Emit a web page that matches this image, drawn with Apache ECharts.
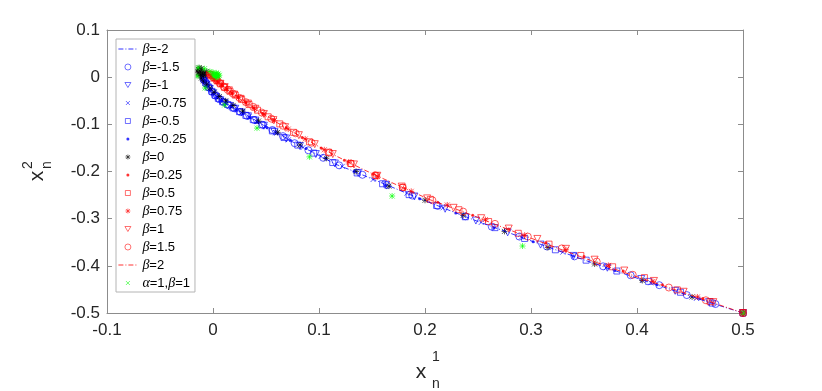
<!DOCTYPE html>
<html>
<head>
<meta charset="utf-8">
<script src="https://cdn.jsdelivr.net/npm/echarts@6/dist/echarts.min.js"></script>
<style>
  html, body { margin: 0; padding: 0; background: #fff; }
  #chart { width: 822px; height: 391px; }
</style>
</head>
<body>
<div id="chart"></div>
<script>
// axis ticks
var xTicks = [-0.1, 0, 0.1, 0.2, 0.3, 0.4, 0.5];
var yTicks = [-0.5, -0.4, -0.3, -0.2, -0.1, 0, 0.1];

// iterates (x_n^1, x_n^2), one list per beta
var bM2 = [[0.5,-0.5],[0.462,-0.473],[0.425,-0.445],[0.388,-0.417],[0.352,-0.389],[0.317,-0.361],[0.283,-0.333],[0.25,-0.306],[0.218,-0.278],[0.187,-0.25],[0.158,-0.223],[0.13,-0.197],[0.115,-0.184],[0.1,-0.166],[0.087,-0.151],[0.075,-0.137],[0.064,-0.122],[0.054,-0.109],[0.045,-0.098],[0.037,-0.088],[0.03,-0.079],[0.023,-0.07],[0.017,-0.062],[0.012,-0.055],[0.007,-0.048],[0.003,-0.04],[0.0,-0.032],[-0.003,-0.024],[-0.006,-0.016],[-0.008,-0.008],[-0.01,-0.001],[-0.01,0.004]];
var bM15 = [[0.5,-0.5],[0.474,-0.481],[0.447,-0.462],[0.421,-0.441],[0.394,-0.42],[0.368,-0.401],[0.341,-0.38],[0.315,-0.359],[0.289,-0.338],[0.263,-0.317],[0.238,-0.295],[0.212,-0.273],[0.188,-0.251],[0.164,-0.229],[0.141,-0.207],[0.119,-0.187],[0.104,-0.171],[0.09,-0.155],[0.077,-0.14],[0.066,-0.125],[0.056,-0.112],[0.047,-0.101],[0.039,-0.091],[0.032,-0.082],[0.026,-0.074],[0.02,-0.066],[0.015,-0.06],[0.01,-0.053],[0.006,-0.047],[0.002,-0.039],[-0.001,-0.031],[-0.004,-0.022],[-0.006,-0.014],[-0.008,-0.007],[-0.009,-0.001]];
var bM1 = [[0.5,-0.5],[0.468,-0.477],[0.436,-0.453],[0.404,-0.428],[0.372,-0.404],[0.34,-0.379],[0.309,-0.355],[0.278,-0.329],[0.248,-0.304],[0.219,-0.279],[0.19,-0.253],[0.163,-0.228],[0.137,-0.203],[0.115,-0.183],[0.097,-0.163],[0.082,-0.146],[0.069,-0.13],[0.058,-0.116],[0.048,-0.103],[0.04,-0.092],[0.033,-0.083],[0.027,-0.075],[0.021,-0.067],[0.016,-0.061],[0.011,-0.055],[0.007,-0.049],[0.003,-0.042],[0.0,-0.034],[-0.003,-0.025],[-0.006,-0.016],[-0.008,-0.008],[-0.009,-0.002]];
var bM075 = [[0.5,-0.5],[0.456,-0.469],[0.413,-0.436],[0.371,-0.404],[0.33,-0.371],[0.291,-0.339],[0.253,-0.308],[0.217,-0.277],[0.183,-0.246],[0.151,-0.217],[0.122,-0.189],[0.102,-0.168],[0.085,-0.149],[0.071,-0.133],[0.059,-0.118],[0.049,-0.105],[0.041,-0.094],[0.034,-0.084],[0.027,-0.075],[0.021,-0.068],[0.016,-0.061],[0.011,-0.054],[0.007,-0.048],[0.003,-0.041],[0.0,-0.033],[-0.003,-0.024],[-0.006,-0.015],[-0.008,-0.007],[-0.01,0.0]];
var bM05 = [[0.5,-0.5],[0.471,-0.479],[0.441,-0.456],[0.411,-0.433],[0.381,-0.411],[0.352,-0.388],[0.323,-0.366],[0.294,-0.342],[0.266,-0.319],[0.238,-0.296],[0.211,-0.272],[0.185,-0.249],[0.16,-0.226],[0.136,-0.203],[0.113,-0.181],[0.095,-0.161],[0.08,-0.144],[0.067,-0.128],[0.056,-0.114],[0.046,-0.101],[0.038,-0.09],[0.031,-0.081],[0.025,-0.073],[0.019,-0.065],[0.014,-0.058],[0.009,-0.052],[0.005,-0.045],[0.002,-0.038],[-0.001,-0.03],[-0.004,-0.021],[-0.007,-0.012],[-0.009,-0.004]];
var bM025 = [[0.5,-0.5],[0.459,-0.47],[0.419,-0.44],[0.379,-0.41],[0.34,-0.379],[0.302,-0.349],[0.265,-0.319],[0.229,-0.288],[0.195,-0.258],[0.163,-0.229],[0.133,-0.2],[0.106,-0.172],[0.088,-0.151],[0.073,-0.134],[0.061,-0.12],[0.051,-0.107],[0.042,-0.096],[0.035,-0.086],[0.028,-0.077],[0.022,-0.069],[0.017,-0.062],[0.012,-0.056],[0.008,-0.05],[0.004,-0.043],[0.001,-0.035],[-0.002,-0.027],[-0.005,-0.018],[-0.007,-0.01],[-0.009,-0.003],[-0.01,0.003]];
var k0 = [[0.5,-0.5],[0.452,-0.466],[0.405,-0.431],[0.36,-0.396],[0.316,-0.361],[0.275,-0.327],[0.236,-0.293],[0.2,-0.261],[0.166,-0.231],[0.135,-0.2],[0.107,-0.172],[0.082,-0.144],[0.061,-0.117],[0.043,-0.093],[0.028,-0.072],[0.019,-0.06],[0.012,-0.05],[0.006,-0.041],[0.001,-0.032],[-0.003,-0.023],[-0.006,-0.015],[-0.009,-0.008],[-0.011,-0.002],[-0.013,0.004],[-0.014,0.009],[-0.015,0.013],[-0.014,0.017],[-0.013,0.02],[-0.011,0.018],[-0.01,0.014],[-0.012,0.011],[-0.01,0.008],[-0.008,0.01],[-0.007,0.005],[-0.009,0.002],[-0.012,0.006],[-0.006,0.012]];
var r025 = [[0.5,-0.5],[0.462,-0.469],[0.424,-0.44],[0.387,-0.411],[0.35,-0.38],[0.314,-0.351],[0.279,-0.322],[0.245,-0.293],[0.212,-0.265],[0.181,-0.236],[0.151,-0.206],[0.124,-0.176],[0.102,-0.15],[0.084,-0.128],[0.069,-0.107],[0.057,-0.09],[0.047,-0.077],[0.038,-0.065],[0.031,-0.054],[0.024,-0.043],[0.018,-0.034],[0.013,-0.026],[0.009,-0.018],[0.005,-0.011],[0.002,-0.005],[0.0,0.0],[-0.002,0.004]];
var r05 = [[0.5,-0.5],[0.469,-0.476],[0.438,-0.451],[0.407,-0.425],[0.377,-0.402],[0.347,-0.378],[0.317,-0.354],[0.288,-0.331],[0.26,-0.306],[0.232,-0.281],[0.205,-0.259],[0.179,-0.234],[0.154,-0.209],[0.13,-0.183],[0.109,-0.159],[0.091,-0.137],[0.076,-0.117],[0.063,-0.099],[0.052,-0.084],[0.042,-0.07],[0.034,-0.058],[0.027,-0.047],[0.021,-0.038],[0.016,-0.03],[0.011,-0.022],[0.007,-0.014],[0.004,-0.008],[0.001,-0.002],[-0.002,0.003]];
var r075 = [[0.5,-0.5],[0.457,-0.466],[0.415,-0.433],[0.373,-0.399],[0.333,-0.366],[0.294,-0.335],[0.257,-0.302],[0.221,-0.271],[0.187,-0.242],[0.155,-0.21],[0.128,-0.18],[0.105,-0.154],[0.087,-0.131],[0.071,-0.11],[0.058,-0.092],[0.048,-0.078],[0.039,-0.066],[0.031,-0.054],[0.024,-0.043],[0.018,-0.034],[0.013,-0.025],[0.008,-0.016],[0.004,-0.009],[0.001,-0.003],[-0.002,0.003],[-0.004,0.006]];
var r1 = [[0.5,-0.5],[0.472,-0.477],[0.444,-0.455],[0.416,-0.432],[0.388,-0.41],[0.36,-0.387],[0.333,-0.364],[0.306,-0.343],[0.279,-0.321],[0.253,-0.299],[0.227,-0.277],[0.202,-0.257],[0.178,-0.232],[0.155,-0.209],[0.133,-0.185],[0.113,-0.163],[0.096,-0.142],[0.081,-0.123],[0.068,-0.106],[0.057,-0.091],[0.048,-0.078],[0.04,-0.067],[0.033,-0.056],[0.026,-0.046],[0.02,-0.037],[0.015,-0.028],[0.011,-0.021],[0.007,-0.014],[0.003,-0.007],[0.0,-0.001],[-0.003,0.005]];
var r15 = [[0.5,-0.5],[0.465,-0.473],[0.43,-0.446],[0.396,-0.419],[0.362,-0.391],[0.329,-0.363],[0.297,-0.338],[0.266,-0.311],[0.236,-0.285],[0.207,-0.261],[0.179,-0.234],[0.153,-0.208],[0.13,-0.183],[0.11,-0.16],[0.093,-0.139],[0.078,-0.119],[0.066,-0.103],[0.055,-0.088],[0.046,-0.075],[0.038,-0.063],[0.031,-0.053],[0.025,-0.044],[0.019,-0.035],[0.014,-0.027],[0.01,-0.02],[0.006,-0.012],[0.003,-0.006],[0.0,0.0],[-0.003,0.006]];
var rP2 = [[0.5,-0.5],[0.461,-0.47],[0.422,-0.44],[0.384,-0.411],[0.346,-0.38],[0.309,-0.349],[0.273,-0.318],[0.238,-0.287],[0.205,-0.26],[0.173,-0.228],[0.143,-0.197],[0.116,-0.167],[0.094,-0.14],[0.076,-0.117],[0.061,-0.097],[0.049,-0.08],[0.039,-0.066],[0.03,-0.052],[0.022,-0.04],[0.015,-0.029],[0.009,-0.018],[0.004,-0.009],[0.0,-0.002],[-0.003,0.004]];
var g11 = [[0.5,-0.5],[0.292,-0.358],[0.169,-0.252],[0.091,-0.169],[0.0415,-0.108],[0.011,-0.059],[-0.0075,-0.023],[-0.015,0.002],[-0.014,0.02],[-0.008,0.018],[-0.003,0.012],[0.0,0.01],[0.003,0.009],[0.005,0.007],[0.006,0.004],[0.005,0.001],[0.003,-0.001],[0.001,0.0],[0.0,0.003],[0.001,0.006],[0.003,0.007],[0.004,0.005],[0.003,0.003],[0.002,0.004]];

var names = ['β=-2','β=-1.5','β=-1','β=-0.75','β=-0.5','β=-0.25','β=0',
             'β=0.25','β=0.5','β=0.75','β=1','β=1.5','β=2','α=1,β=1'];

var BLUE = '#0000ff', RED = '#ff0000', BLACK = '#000000', GREEN = '#00ff00';
var X_PATH = 'path://M0,0L10,10M10,0L0,10';
var STAR_PATH = 'path://M0,0L10,10M10,0L0,10M5,-1L5,11M-1,5L11,5';

// small legend icons: the first two moves pin the 19x8 box so the marker is not stretched
var ICON = {
  circle: 'path://M0,0M19,8M12.5,4A3,3,0,1,1,6.5,4A3,3,0,1,1,12.5,4Z',
  tri: 'path://M0,0M19,8M6.5,1.5L12.5,1.5L9.5,6.5Z',
  x: 'path://M0,0M19,8M7.5,2L11.5,6M11.5,2L7.5,6',
  rect: 'path://M0,0M19,8M7,1.5L12,1.5L12,6.5L7,6.5Z',
  dot: 'path://M0,0M19,8M11,4A1.5,1.5,0,1,1,8,4A1.5,1.5,0,1,1,11,4Z',
  star: 'path://M0,0M19,8M7.5,2L11.5,6M11.5,2L7.5,6M9.5,1.5L9.5,6.5M7,4L12,4'
};
var legendIcons = [null, ICON.circle, ICON.tri, ICON.x, ICON.rect, ICON.dot, ICON.star,
                   ICON.dot, ICON.rect, ICON.star, ICON.tri, ICON.circle, null, ICON.x];

// hollow marker helper (matlab style, no fill)
function marks(name, data, symbol, size, color, rot) {
  return {
    name: name, type: 'scatter', data: data,
    symbol: symbol, symbolSize: size, symbolRotate: rot || 0,
    itemStyle: { color: 'transparent', borderColor: color, borderWidth: 0.8 }
  };
}
function dots(name, data, color) {
  return {
    name: name, type: 'scatter', data: data,
    symbol: 'circle', symbolSize: 3,
    itemStyle: { color: color }
  };
}
function dashdot(name, data, color) {
  return {
    name: name, type: 'line', data: data, symbol: 'none', showSymbol: false,
    lineStyle: { color: color, width: 0.8, type: [5, 2, 1, 2] },
    itemStyle: { color: 'transparent' }
  };
}

var series = [
  dashdot(names[0], bM2, BLUE),
  marks(names[1], bM15, 'circle', 7, BLUE),
  marks(names[2], bM1, 'triangle', 7, BLUE, 180),
  marks(names[3], bM075, X_PATH, 5, BLUE),
  marks(names[4], bM05, 'rect', 6, BLUE),
  dots(names[5], bM025, BLUE),
  marks(names[6], k0, STAR_PATH, 6, BLACK),
  dots(names[7], r025, RED),
  marks(names[8], r05, 'rect', 6, RED),
  marks(names[9], r075, STAR_PATH, 6, RED),
  marks(names[10], r1, 'triangle', 7, RED, 180),
  marks(names[11], r15, 'circle', 7, RED),
  dashdot(names[12], rP2, RED),
  marks(names[13], g11, STAR_PATH, 6, GREEN)
];

var legendData = names.map(function (n, i) {
  return legendIcons[i] ? { name: n, icon: legendIcons[i] } : { name: n };
});

var AX = '#8c8c8c';
var labelFont = { fontSize: 17, color: '#262626', fontFamily: 'Liberation Sans' };

function xAx(pos, show) {
  return {
    type: 'value', position: pos, min: xTicks[0], max: xTicks[xTicks.length - 1], interval: 0.1,
    axisLine: { show: true, onZero: false, lineStyle: { color: AX, width: 1 } },
    axisTick: { show: true, inside: true, length: 5, lineStyle: { color: AX } },
    axisLabel: Object.assign({ show: show, margin: 9 }, labelFont),
    splitLine: { show: false }
  };
}
function yAx(pos, show) {
  return {
    type: 'value', position: pos, min: yTicks[0], max: yTicks[yTicks.length - 1], interval: 0.1,
    axisLine: { show: true, onZero: false, lineStyle: { color: AX, width: 1 } },
    axisTick: { show: true, inside: true, length: 5, lineStyle: { color: AX } },
    axisLabel: Object.assign({ show: show, margin: 7 }, labelFont),
    splitLine: { show: false }
  };
}

var txt = function (x, y, s, size, rot) {
  return {
    type: 'text', x: x, y: y, rotation: rot || 0,
    style: { text: s, fontSize: size, fontFamily: 'Liberation Sans', fill: '#262626',
             textAlign: 'center', textVerticalAlign: 'middle' }
  };
};

var chart = echarts.init(document.getElementById('chart'));
chart.setOption({
  animation: false,
  backgroundColor: '#fff',
  grid: { left: 107, top: 30, right: 79, bottom: 78 },
  xAxis: [xAx('bottom', true), xAx('top', false)],
  yAxis: [yAx('left', true), yAx('right', false)],
  legend: {
    data: legendData,
    orient: 'vertical', left: 116, top: 39,
    itemWidth: 19, itemHeight: 8, itemGap: 4,
    padding: [3, 5, 2, 2],
    borderColor: '#b4b4b4', borderWidth: 1, backgroundColor: '#fff',
    selectedMode: false,
    itemStyle: { borderWidth: 0.7 },
    lineStyle: { width: 0.8 },
    textStyle: {
      fontSize: 13, lineHeight: 14, color: '#000', fontFamily: 'Liberation Sans',
      rich: { g: { fontSize: 14, lineHeight: 14, fontStyle: 'italic', fontFamily: 'Liberation Serif', color: '#000' } }
    },
    formatter: function (n) { return n.replace(/([αβ])/g, '{g|$1}'); }
  },
  // axis titles x_n^1 and x_n^2
  graphic: [
    txt(421, 372, 'x', 21), txt(436, 357, '1', 14), txt(436, 384, 'n', 14),
    txt(37, 176, 'x', 21, Math.PI / 2), txt(28, 165, '2', 14, Math.PI / 2), txt(47, 165, 'n', 14, Math.PI / 2)
  ],
  series: series
});
</script>
</body>
</html>
